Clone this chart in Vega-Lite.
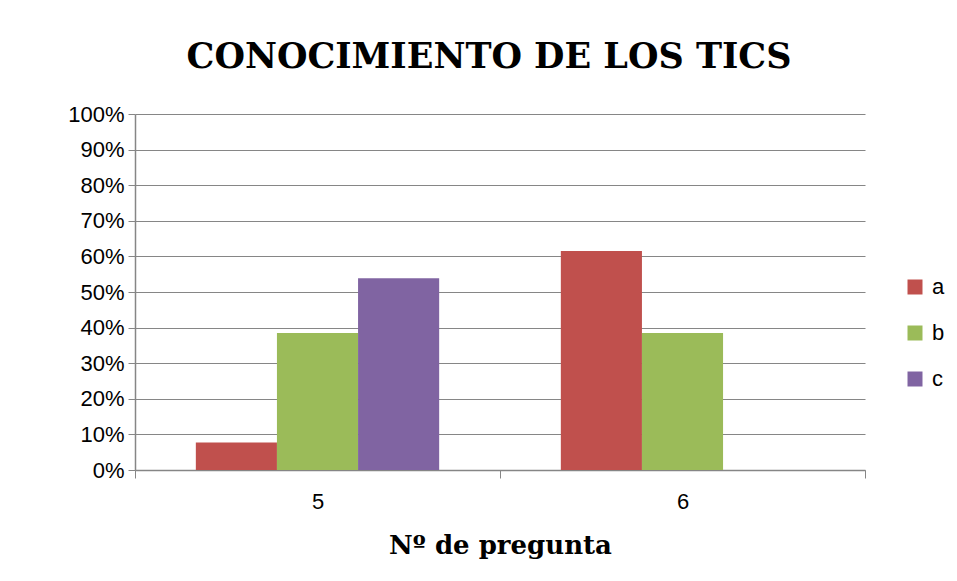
{
  "$schema": "https://vega.github.io/schema/vega-lite/v6.json",
  "width": 730,
  "height": 356,
  "autosize": {"type": "none"},
  "padding": {"left": 135, "top": 114, "right": 92, "bottom": 111},
  "background": "white",
  "title": {
    "text": "CONOCIMIENTO DE LOS TICS",
    "font": "DejaVu Serif",
    "fontSize": 35,
    "fontWeight": "bold",
    "color": "black",
    "anchor": "middle",
    "offset": 28,
    "dx": -11
  },
  "data": {
    "values": [
      {"pregunta": "5", "opcion": "a", "valor": 0.0769},
      {"pregunta": "5", "opcion": "b", "valor": 0.3846},
      {"pregunta": "5", "opcion": "c", "valor": 0.5385},
      {"pregunta": "6", "opcion": "a", "valor": 0.6154},
      {"pregunta": "6", "opcion": "b", "valor": 0.3846},
      {"pregunta": "6", "opcion": "c", "valor": 0}
    ]
  },
  "mark": {"type": "bar"},
  "encoding": {
    "x": {
      "field": "pregunta",
      "type": "nominal",
      "scale": {"paddingInner": 0, "paddingOuter": 0},
      "axis": {
        "title": "Nº de pregunta",
        "titleFont": "DejaVu Serif",
        "titleFontSize": 26,
        "titleFontWeight": "bold",
        "titleColor": "black",
        "titlePadding": 20,
        "labelAngle": 0,
        "labelFont": "Liberation Sans",
        "labelFontSize": 22,
        "labelColor": "black",
        "labelPadding": 13,
        "tickBand": "extent",
        "tickColor": "#868686",
        "tickSize": 8,
        "domainColor": "#868686",
        "domainWidth": 1.5,
        "grid": false
      }
    },
    "xOffset": {
      "field": "opcion",
      "type": "nominal",
      "scale": {"paddingInner": 0, "paddingOuter": 0.75}
    },
    "y": {
      "field": "valor",
      "type": "quantitative",
      "scale": {"domain": [0, 1]},
      "axis": {
        "title": null,
        "format": ".0%",
        "values": [0, 0.1, 0.2, 0.3, 0.4, 0.5, 0.6, 0.7, 0.8, 0.9, 1],
        "labelOverlap": false,
        "labelFont": "Liberation Sans",
        "labelFontSize": 22,
        "labelColor": "black",
        "labelPadding": 4,
        "tickColor": "#868686",
        "tickSize": 7,
        "domainColor": "#868686",
        "domainWidth": 1.5,
        "gridColor": "#868686",
        "gridWidth": 1.2
      }
    },
    "color": {
      "field": "opcion",
      "type": "nominal",
      "scale": {"domain": ["a", "b", "c"], "range": ["#C0504D", "#9BBB59", "#8064A2"]},
      "legend": {
        "title": null,
        "orient": "none",
        "legendX": 769,
        "legendY": 162,
        "symbolType": "square",
        "symbolSize": 225,
        "symbolStrokeWidth": 0,
        "labelFont": "Liberation Sans",
        "labelFontSize": 22,
        "labelColor": "black",
        "rowPadding": 24,
        "labelOffset": 6
      }
    }
  },
  "config": {
    "view": {"stroke": null}
  }
}
